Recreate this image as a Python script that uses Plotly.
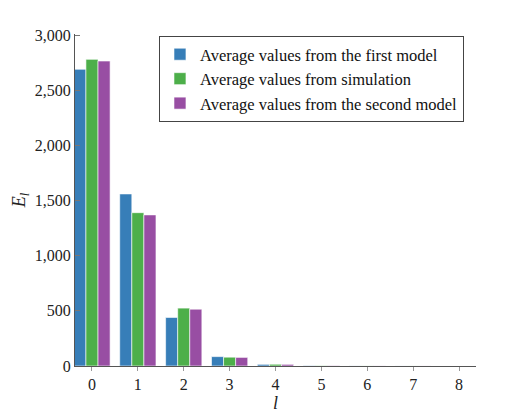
import plotly.graph_objects as go

categories = [0, 1, 2, 3, 4, 5, 6, 7, 8]
first_model = [2690, 1560, 440, 85, 15, 3, 1, 0.5, 0.2]
simulation = [2780, 1390, 525, 80, 16, 3, 1, 0.5, 0.2]
second_model = [2765, 1370, 515, 78, 15, 3, 1, 0.5, 0.2]
names = ["Average values from the first model",
         "Average values from simulation",
         "Average values from the second model"]
colors = ["#377eb8", "#4daf4a", "#984ea3"]
y_ticks = [0, 500, 1000, 1500, 2000, 2500, 3000]

fig = go.Figure()
for vals, name, col in zip([first_model, simulation, second_model], names, colors):
    fig.add_trace(go.Bar(x=categories, y=vals, name=name,
                         marker=dict(color=col, line=dict(color="white", width=0.6))))

font = "Liberation Serif, DejaVu Serif, serif"
fig.update_layout(
    width=521, height=416,
    margin=dict(l=75, r=45, t=34, b=50),
    paper_bgcolor="white", plot_bgcolor="white",
    barmode="group", bargap=0.21, bargroupgap=0,
    font=dict(family=font, size=16, color="#222"),
    showlegend=True,
    legend=dict(x=0.97, y=0.994, xanchor="right", yanchor="top",
                bordercolor="#444", borderwidth=1, bgcolor="white",
                font=dict(size=16.5, family=font, color="#111"),
                tracegroupgap=0, itemwidth=30),
    xaxis=dict(range=[-0.37, 8.37], tickmode="array", tickvals=categories,
               showline=True, linecolor="#555", linewidth=1,
               ticks="outside", ticklen=4, tickcolor="#999",
               showgrid=False, zeroline=False, automargin=False,
               title=dict(text="<i>l</i>", font=dict(size=18), standoff=4)),
    yaxis=dict(range=[0, 3010], tickmode="array", tickvals=y_ticks,
               tickformat=",d",
               showline=True, linecolor="#555", linewidth=1,
               ticks="inside", ticklen=5, tickcolor="#777",
               showgrid=False, zeroline=False, automargin=False,
               title=dict(text="<i>E<sub>l</sub></i>", font=dict(size=18), standoff=4)),
)

fig.write_html("out.html")
